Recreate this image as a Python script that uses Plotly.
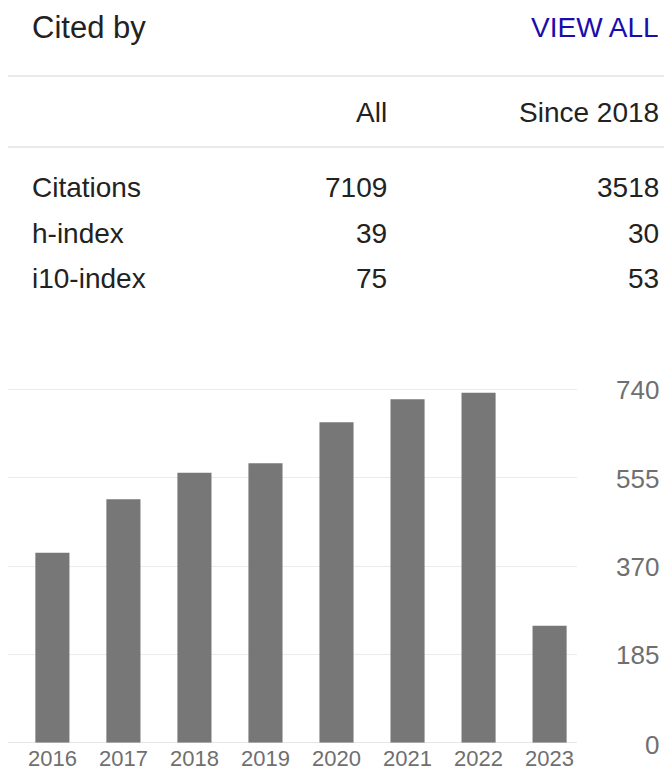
import plotly.graph_objects as go

# ---- data ----
years = ["2016", "2017", "2018", "2019", "2020", "2021", "2022", "2023"]
citations = [398, 510, 565, 585, 671, 719, 733, 245]
y_ticks = [0, 185, 370, 555, 740]
y_tick_labels = ["0", "185", "370", "555", "740"]

header_title = "Cited by"
header_link = "VIEW ALL"
col_headers = ["All", "Since 2018"]
row_labels = ["Citations", "h-index", "i10-index"]
all_values = ["7109", "39", "75"]
since_values = ["3518", "30", "53"]

OFF = 8  # default page body margin
W, H = 672 - OFF, 772 - OFF
FONT = "Liberation Sans, Arial, Helvetica, sans-serif"
TEXT = "#222222"
GREY = "#777777"

Y_BASE, Y_740 = 742.7, 389.3
PX_PER_UNIT = (Y_BASE - Y_740) / 740.0
Y_TOP = 383.0
Y_MAX = 740 + (Y_740 - Y_TOP) / PX_PER_UNIT


def px(x):
    return (x - OFF) / W


def py(y):
    return 1 - (y - OFF) / H


fig = go.Figure()
fig.add_trace(go.Bar(x=years, y=citations, marker=dict(color=GREY, line=dict(width=0)),
                     hoverinfo="x+y"))

ann = []
# header
ann.append(dict(text=header_title, x=px(30), y=py(28), xanchor="left", yanchor="middle",
                font=dict(size=31, color=TEXT)))
ann.append(dict(text=header_link, x=px(661), y=py(28), xanchor="right", yanchor="middle",
                font=dict(size=28, color="#1a0dab")))
# column headers
col_x = [389, 661]
for cx, t in zip(col_x, col_headers):
    ann.append(dict(text=t, x=px(cx), y=py(112), xanchor="right", yanchor="middle",
                    font=dict(size=28, color=TEXT)))
# rows
row_y = [188, 233, 278]
for ry, lab, a, s in zip(row_y, row_labels, all_values, since_values):
    ann.append(dict(text=lab, x=px(30), y=py(ry), xanchor="left", yanchor="middle",
                    font=dict(size=28, color=TEXT)))
    ann.append(dict(text=a, x=px(col_x[0]), y=py(ry), xanchor="right", yanchor="middle",
                    font=dict(size=28, color=TEXT)))
    ann.append(dict(text=s, x=px(col_x[1]), y=py(ry), xanchor="right", yanchor="middle",
                    font=dict(size=28, color=TEXT)))
# y-axis labels (right aligned)
for v, t in zip(y_ticks, y_tick_labels):
    ann.append(dict(text=t, x=px(661), xref="paper", y=v, yref="y", xanchor="right",
                    yanchor="middle", yshift=-2 if v == 0 else -1,
                    font=dict(size=26, color="#6f6f6f")))

for a in ann:
    a.setdefault("xref", "paper")
    a.setdefault("yref", "paper")
    a["showarrow"] = False

shapes = []
for ly in [76, 147]:
    shapes.append(dict(type="line", xref="paper", yref="paper", x0=px(8), x1=1,
                       y0=py(ly), y1=py(ly), line=dict(color="#e3e3e3", width=1.5)))

fig.update_layout(
    width=W, height=H,
    margin=dict(l=0, r=0, t=0, b=0),
    paper_bgcolor="white", plot_bgcolor="white",
    font=dict(family=FONT),
    showlegend=False,
    bargap=0.52,
    annotations=ann,
    shapes=shapes,
    xaxis=dict(domain=[px(8), px(577)], range=[-0.625, 7.386], type="category",
               showgrid=False, zeroline=False, showline=False, ticks="",
               tickfont=dict(size=22, color="#6f6f6f"), fixedrange=True),
    yaxis=dict(domain=[py(Y_BASE), py(Y_TOP)], range=[0, Y_MAX], tickvals=y_ticks,
               showticklabels=False, showgrid=True, gridcolor="#ebebeb", gridwidth=1,
               zeroline=True, zerolinecolor="#e6e6e6", zerolinewidth=1,
               showline=False, ticks="", fixedrange=True),
)

fig.write_html("out.html", config={"displayModeBar": False})
